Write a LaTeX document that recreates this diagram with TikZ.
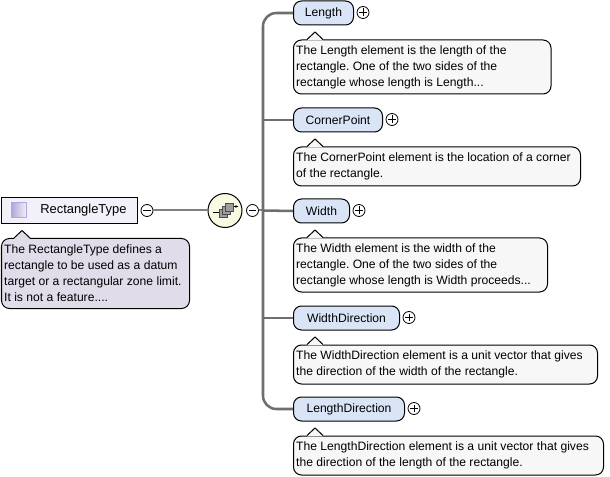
\documentclass[tikz,border=0pt]{standalone}
\usepackage{fontspec}
\setmainfont{Liberation Sans}
\usetikzlibrary{arrows.meta}
\definecolor{elemfill}{HTML}{D9E5F7}
\definecolor{notefill}{HTML}{F7F7F7}
\definecolor{rootnote}{HTML}{E1DCEA}
\definecolor{rootfill}{HTML}{F2F0F8}
\definecolor{iconfill}{HTML}{FAFAE4}
\definecolor{iconleft}{HTML}{B4A6DC}
\definecolor{busgray}{HTML}{6E6E6E}
\definecolor{linkgray}{HTML}{808080}
% pointer on top of a note: x position, base y
\newcommand{\notetip}[3]{%
  \fill[#3] (#1-8,#2+.8) -- (#1,#2-7.5) -- (#1+8,#2+.8) -- cycle;
  \draw[line width=.75pt] (#1-8,#2) -- (#1,#2-7.5) -- (#1+8,#2);
}
\begin{document}
\begin{tikzpicture}%
  [x=.75pt,y=-.75pt,
   font=\fontsize{9.1pt}{12pt}\selectfont\frenchspacing,
   element/.style=
    {draw,line width=.75pt,rounded corners=6pt,fill=elemfill,anchor=north west,
     minimum height=18pt,inner sep=0pt,align=center},
   note/.style=
    {draw,line width=.75pt,rounded corners=6pt,fill=notefill,anchor=north west,
     inner xsep=2pt,inner ysep=0pt,align=flush left},
   toggle/.style=
    {draw,circle,line width=.6pt,fill=white,minimum size=9pt,inner sep=0pt,
     path picture={\draw[line width=.6pt]
       ([xshift=1.8pt]path picture bounding box.west) --
       ([xshift=-1.8pt]path picture bounding box.east);}},
   plus/.style=
    {toggle,append after command={
     (\tikzlastnode.north) ++(0,-1.8pt) edge[line width=.6pt] ++(0,-5.4pt)}},
   bus/.style={busgray,line width=1.9pt,rounded corners=10pt},
   link/.style={linkgray,line width=1.5pt}
  ]
  \useasboundingbox (0,0) rectangle (610,477);
  % root
  \node[draw,line width=.75pt,fill=rootfill,anchor=north west,minimum width=102.5pt,
    minimum height=19.5pt,inner sep=0pt] (root) at (0.5,197.5) {};
  \node[anchor=west,inner sep=0pt,font=\fontsize{9.7pt}{12pt}\selectfont] (rootname) at (40,210.5) {RectangleType};
  \node[draw=iconleft,line width=.5pt,left color=iconleft,right color=rootfill,
    anchor=north west,minimum size=11.5pt,inner sep=0pt] (rooticon) at (11,202) {};
  \node[note,fill=rootnote,text width=137pt,minimum height=52.5pt] (rootdoc) at (1,238)
    {The RectangleType defines a\\
     rectangle to be used as a datum\\
     target or a rectangular zone limit.\\
     It is not a feature....};
  \notetip{22}{238}{rootnote}
  % compositor
  \node[toggle] (rootminus) at (147,210.5) {};
  \node[draw,circle,line width=.75pt,fill=iconfill,minimum size=25.5pt,inner sep=0pt] (seq) at (225,210.5) {};
  \node[toggle] (seqminus) at (252.5,210.5) {};
  \draw[link] (rootminus) -- (seq);
  \draw[line width=.6pt] (213,212.5) -- (219,212.5);
  \draw[line width=.6pt,-{Stealth[length=2.5pt]}] (232,206.5) -- (238.5,206.5);
  \foreach \ix/\iy in {0/0,3/-3,6/-6}
    \draw[black!70,line width=.5pt,fill=black!38] (219+\ix,209+\iy) rectangle ++(8,8);
  \coordinate (busmid) at (263,210.5);
  \draw[link] (seqminus) -- (busmid);
  % elements
  \foreach \name/\ypos/\wdth/\nwd/\nht/\txt/\body in {%
    len/0/60/257.5/54/Length/{The Length element is the length of the\\rectangle. One of the two sides of the\\rectangle whose length is Length...},%
    cp/107/89/287/39/CornerPoint/{The CornerPoint element is the location of a corner\\of the rectangle.},%
    wd/198/56/254/54/Width/{The Width element is the width of the\\rectangle. One of the two sides of the\\rectangle whose length is Width proceeds...},%
    wdir/305/106/304/39/WidthDirection/{The WidthDirection element is a unit vector that gives\\the direction of the width of the rectangle.},%
    ldir/396/111/310/39/LengthDirection/{The LengthDirection element is a unit vector that gives\\the direction of the length of the rectangle.}}
  {
    \node[element,minimum width=.75*\wdth] (\name) at (293,\ypos+.5) {\txt};
    \node[plus] (\name plus) at (293+\wdth+10,\ypos+12.5) {};
    \node[note,text width=.75*\nwd-4pt,minimum height=.75*\nht] (\name doc) at (293,\ypos+39.5) {\body};
    \notetip{315}{\ypos+39.5}{notefill}
  }
  % connectors
  \draw[bus] (busmid) |- (len.west);
  \draw[bus] (busmid) |- (ldir.west);
  \draw[bus] (busmid) -- (wd.west);
  \draw[bus] (busmid |- cp.west) -- (cp.west);
  \draw[bus] (busmid |- wdir.west) -- (wdir.west);
\end{tikzpicture}
\end{document}
